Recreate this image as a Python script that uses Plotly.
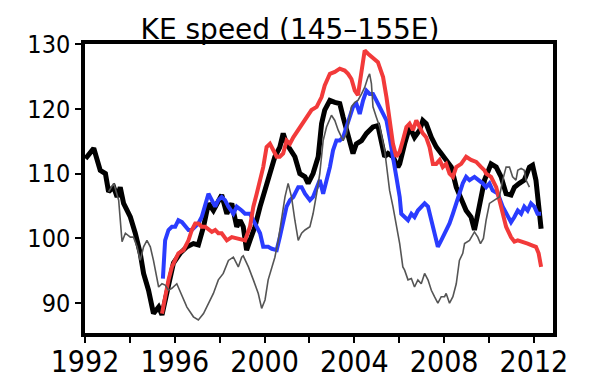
import plotly.graph_objects as go

# ---- data ----
black_t = [1992.02, 1992.39, 1992.68, 1992.91, 1993.05, 1993.28, 1993.43, 1993.57, 1993.72, 1994.02,
           1994.24, 1994.46, 1994.61, 1994.83, 1995.05, 1995.28, 1995.43, 1995.65, 1995.94, 1996.24,
           1996.54, 1996.83, 1997.05, 1997.28, 1997.50, 1997.72, 1998.09, 1998.32, 1998.54, 1998.76,
           1998.91, 1999.05, 1999.20, 1999.35, 1999.57, 1999.80, 2000.02, 2000.24, 2000.46, 2000.68,
           2000.83, 2000.98, 2001.20, 2001.35, 2001.57, 2001.80, 2001.94, 2002.16, 2002.39, 2002.54,
           2002.68, 2002.91, 2003.13, 2003.35, 2003.50, 2003.65, 2003.80, 2003.94, 2004.09, 2004.32,
           2004.54, 2004.83, 2005.05, 2005.20, 2005.35, 2005.50, 2005.72, 2005.94, 2006.02, 2006.24,
           2006.46, 2006.68, 2006.91, 2007.05, 2007.20, 2007.43, 2007.65, 2007.87, 2008.09, 2008.32,
           2008.54, 2008.76, 2008.98, 2009.20, 2009.35, 2009.50, 2009.65, 2009.80, 2010.09, 2010.32,
           2010.54, 2010.76, 2010.98, 2011.13, 2011.35, 2011.57, 2011.80, 2011.94, 2012.09, 2012.21,
           2012.32]
black_v = [112.3, 113.9, 110.5, 110.0, 107.2, 107.9, 106.4, 107.9, 105.4, 103.3,
           100.8, 97.7, 94.6, 92.0, 88.4, 89.4, 88.2, 92.0, 96.2, 97.7,
           98.7, 99.2, 99.0, 101.8, 105.4, 104.3, 106.7, 103.8, 105.4, 101.8,
           102.8, 101.8, 98.2, 99.7, 101.8, 104.9, 107.4, 110.5, 112.6, 114.1,
           116.2, 114.6, 113.6, 112.6, 110.0, 109.5, 108.5, 110.0, 112.6, 117.7,
           119.8, 121.3, 121.0, 120.8, 118.7, 116.7, 115.1, 113.1, 114.6, 115.1,
           116.2, 117.2, 117.4, 115.1, 112.6, 113.1, 112.6, 111.0, 111.5, 114.6,
           117.2, 115.6, 116.7, 118.2, 117.7, 115.6, 114.1, 113.1, 112.1, 111.0,
           107.9, 105.9, 104.3, 103.3, 101.3, 103.8, 106.9, 109.0, 111.5, 111.0,
           109.5, 106.9, 106.7, 107.9, 108.5, 109.0, 111.0, 111.3, 109.0, 104.9,
           101.5]

gray_t = [1993.05, 1993.28, 1993.50, 1993.57, 1993.65, 1993.80, 1994.02, 1994.16, 1994.32, 1994.46,
          1994.61, 1994.76, 1994.91, 1995.05, 1995.28, 1995.43, 1995.57, 1995.72, 1995.87, 1996.09,
          1996.32, 1996.54, 1996.83, 1997.05, 1997.28, 1997.50, 1997.72, 1997.94, 1998.16, 1998.39,
          1998.61, 1998.83, 1998.98, 1999.05, 1999.28, 1999.50, 1999.72, 1999.87, 2000.02, 2000.16,
          2000.32, 2000.46, 2000.61, 2000.76, 2000.91, 2001.05, 2001.20, 2001.35, 2001.50, 2001.65,
          2001.80, 2002.02, 2002.16, 2002.32, 2002.46, 2002.61, 2002.76, 2002.98, 2003.13, 2003.28,
          2003.50, 2003.65, 2003.87, 2004.02, 2004.16, 2004.32, 2004.46, 2004.61, 2004.68, 2004.76,
          2004.83, 2004.98, 2005.13, 2005.35, 2005.57, 2005.72, 2005.87, 2006.02, 2006.16, 2006.24,
          2006.39, 2006.54, 2006.68, 2006.83, 2006.98, 2007.13, 2007.28, 2007.43, 2007.57, 2007.72,
          2007.87, 2008.02, 2008.09, 2008.24, 2008.39, 2008.54, 2008.68, 2008.83, 2008.91, 2009.13,
          2009.35, 2009.50, 2009.62, 2009.75, 2009.87, 2010.02, 2010.24, 2010.46, 2010.61, 2010.76,
          2010.91, 2011.05, 2011.20, 2011.28, 2011.43, 2011.57, 2011.65, 2011.80]
gray_v = [107.2, 108.5, 105.9, 102.8, 99.5, 100.8, 100.2, 100.2, 98.7, 96.6,
          98.7, 99.7, 98.7, 96.6, 92.5, 93.0, 92.8, 92.0, 92.3, 93.0,
          91.0, 89.4, 87.9, 87.4, 88.4, 90.0, 91.5, 93.6, 94.6, 96.6,
          97.1, 95.6, 97.1, 97.3, 95.6, 93.6, 91.5, 89.2, 90.5, 93.6,
          95.6, 97.1, 99.7, 103.3, 106.4, 108.5, 106.4, 102.8, 99.7, 100.8,
          101.3, 101.8, 103.8, 106.9, 110.0, 115.1, 117.2, 119.0, 118.2, 116.7,
          115.1, 116.2, 120.3, 121.0, 121.3, 122.3, 123.3, 124.9, 125.4, 123.9,
          120.3, 118.7, 117.2, 113.6, 107.4, 104.9, 101.8, 99.2, 95.6, 95.1,
          93.6, 93.8, 92.5, 93.6, 93.0, 94.6, 93.6, 92.0, 91.0, 90.0,
          91.0, 91.0, 91.5, 90.0, 91.0, 93.0, 96.6, 97.7, 99.2, 99.7,
          101.0, 100.2, 99.2, 100.0, 102.8, 105.4, 105.9, 106.4, 109.0, 111.0,
          111.0, 109.5, 109.0, 110.5, 110.8, 110.5, 109.0, 107.9]

red_t = [1995.43, 1995.57, 1995.72, 1995.87, 1996.02, 1996.16, 1996.39, 1996.61, 1996.76, 1996.91,
         1997.05, 1997.20, 1997.35, 1997.50, 1997.65, 1997.80, 1997.94, 1998.09, 1998.32, 1998.54,
         1998.76, 1998.98, 1999.13, 1999.35, 1999.50, 1999.65, 1999.80, 1999.94, 2000.09, 2000.24,
         2000.39, 2000.54, 2000.68, 2000.83, 2000.98, 2001.13, 2001.28, 2001.50, 2001.65, 2001.87,
         2002.09, 2002.32, 2002.54, 2002.68, 2002.91, 2003.13, 2003.35, 2003.57, 2003.72, 2003.87,
         2004.02, 2004.16, 2004.32, 2004.46, 2004.61, 2004.76, 2004.91, 2005.05, 2005.13, 2005.28,
         2005.43, 2005.57, 2005.72, 2005.87, 2006.02, 2006.16, 2006.32, 2006.46, 2006.61, 2006.76,
         2006.91, 2007.05, 2007.20, 2007.35, 2007.50, 2007.65, 2007.80, 2007.94, 2008.09, 2008.24,
         2008.39, 2008.54, 2008.76, 2008.98, 2009.20, 2009.43, 2009.65, 2009.80, 2009.87, 2010.09,
         2010.32, 2010.46, 2010.61, 2010.76, 2010.98, 2011.13, 2011.28, 2011.50, 2011.72, 2011.94,
         2012.09, 2012.21, 2012.32]
red_v = [88.4, 91.0, 93.6, 95.6, 96.6, 97.7, 98.2, 99.7, 101.3, 102.3,
         102.3, 101.8, 101.8, 101.3, 101.0, 101.3, 100.8, 100.8, 99.7, 100.2,
         100.0, 99.7, 99.7, 101.8, 104.9, 106.9, 109.0, 111.0, 114.1, 114.6,
         113.6, 112.6, 112.6, 113.1, 115.1, 114.6, 115.6, 116.7, 117.7, 118.7,
         119.8, 120.3, 121.8, 123.6, 125.4, 125.7, 126.2, 125.9, 125.4, 124.6,
         122.8, 122.1, 125.4, 129.0, 128.5, 128.0, 127.5, 127.2, 126.4, 124.9,
         121.8, 118.2, 114.6, 112.6, 113.4, 115.1, 117.2, 117.7, 116.7, 118.2,
         117.2, 116.2, 115.6, 114.1, 111.5, 111.5, 112.1, 111.0, 111.5, 110.0,
         109.5, 111.0, 111.5, 112.6, 112.1, 111.8, 111.0, 110.5, 110.0, 109.5,
         107.9, 105.9, 103.3, 101.8, 100.2, 99.5, 99.7, 99.5, 99.2, 98.9,
         98.7, 97.7, 95.6]

blue_t = [1995.47, 1995.52, 1995.57, 1995.72, 1995.87, 1996.02, 1996.16, 1996.32, 1996.46, 1996.61,
          1996.76, 1996.91, 1997.05, 1997.20, 1997.35, 1997.50, 1997.65, 1997.80, 1997.94, 1998.09,
          1998.24, 1998.39, 1998.61, 1998.76, 1998.98, 1999.13, 1999.35, 1999.57, 1999.80, 1999.94,
          2000.16, 2000.32, 2000.54, 2000.68, 2000.83, 2000.98, 2001.13, 2001.28, 2001.50, 2001.65,
          2001.80, 2001.94, 2002.02, 2002.16, 2002.32, 2002.46, 2002.61, 2002.76, 2002.91, 2003.05,
          2003.20, 2003.35, 2003.50, 2003.65, 2003.80, 2003.94, 2004.09, 2004.24, 2004.39, 2004.54,
          2004.68, 2004.83, 2004.98, 2005.13, 2005.28, 2005.43, 2005.57, 2005.72, 2005.87, 2006.02,
          2006.09, 2006.24, 2006.39, 2006.54, 2006.68, 2006.83, 2006.98, 2007.13, 2007.28, 2007.43,
          2007.57, 2007.72, 2007.87, 2008.02, 2008.24, 2008.39, 2008.54, 2008.68, 2008.83, 2008.98,
          2009.13, 2009.35, 2009.57, 2009.72, 2009.87, 2010.02, 2010.16, 2010.39, 2010.61, 2010.76,
          2010.98, 2011.13, 2011.28, 2011.43, 2011.57, 2011.72, 2011.87, 2012.02, 2012.16, 2012.32]
blue_v = [93.8, 96.0, 99.7, 101.3, 101.8, 101.8, 102.8, 102.5, 101.8, 101.3,
          101.3, 101.8, 102.3, 103.3, 105.4, 106.9, 105.9, 104.9, 105.9, 106.4,
          105.9, 104.9, 103.8, 104.9, 104.3, 103.8, 103.8, 102.3, 100.8, 98.7,
          98.7, 98.4, 98.2, 100.2, 102.8, 104.9, 105.9, 106.4, 107.9, 107.9,
          106.9, 106.4, 105.9, 106.4, 107.9, 109.0, 106.9, 109.0, 111.0, 113.6,
          115.1, 115.1, 115.6, 117.2, 118.7, 120.3, 120.8, 119.2, 121.3, 122.8,
          122.3, 122.3, 121.3, 120.3, 119.2, 118.2, 115.6, 112.1, 109.5, 106.4,
          103.8, 103.3, 102.8, 103.8, 103.3, 104.3, 104.9, 105.4, 104.9, 102.8,
          100.8, 98.7, 99.7, 100.8, 102.3, 103.8, 105.4, 106.9, 108.5, 109.5,
          109.0, 109.5, 109.0, 108.5, 107.9, 108.5, 107.4, 106.9, 104.9, 103.8,
          102.5, 103.3, 104.3, 103.8, 104.9, 104.3, 105.4, 104.9, 103.8, 103.8]

x_tickvals = [1992, 1994, 1996, 1998, 2000, 2002, 2004, 2006, 2008, 2010, 2012]
x_ticktext = ["1992", "", "1996", "", "2000", "", "2004", "", "2008", "", "2012"]
y_tickvals = [90, 100, 110, 120, 130]
title_text = "KE speed (145–155E)"

fig = go.Figure()
fig.add_trace(go.Scatter(x=black_t, y=black_v, mode="lines",
                         line=dict(color="#000000", width=5), showlegend=False))
fig.add_trace(go.Scatter(x=blue_t, y=blue_v, mode="lines",
                         line=dict(color="#2a3cff", width=4), showlegend=False))
fig.add_trace(go.Scatter(x=red_t, y=red_v, mode="lines",
                         line=dict(color="#f23a3a", width=4), showlegend=False))
fig.add_trace(go.Scatter(x=gray_t, y=gray_v, mode="lines",
                         line=dict(color="#555555", width=1.6), showlegend=False))

fig.update_layout(
    width=600, height=390,
    margin=dict(l=77, r=55, t=36, b=65, autoexpand=False),
    paper_bgcolor="white", plot_bgcolor="white",
    title=dict(text=title_text, x=0.47, xref="container", xanchor="center",
               y=1 - 21 / 390, yref="container", yanchor="middle",
               font=dict(family="DejaVu Sans", size=28, color="black")),
    xaxis=dict(range=[1992, 2012.85], showgrid=False, zeroline=False, automargin=False,
               showline=True, linecolor="black", linewidth=3.5, mirror=True,
               tickmode="array", tickvals=x_tickvals, ticktext=x_ticktext,
               ticks="outside", ticklen=6, tickwidth=1.5, tickcolor="black",
               ticklabelstandoff=-7,
               tickfont=dict(family="DejaVu Sans Condensed", size=30, color="black")),
    yaxis=dict(range=[85.4, 130], showgrid=False, zeroline=False, automargin=False,
               showline=True, linecolor="black", linewidth=3.5, mirror=True,
               tickmode="array", tickvals=y_tickvals,
               ticks="outside", ticklen=6, tickwidth=1.5, tickcolor="black",
               tickfont=dict(family="DejaVu Sans Condensed", size=25, color="black")),
)

fig.write_html("out.html")
